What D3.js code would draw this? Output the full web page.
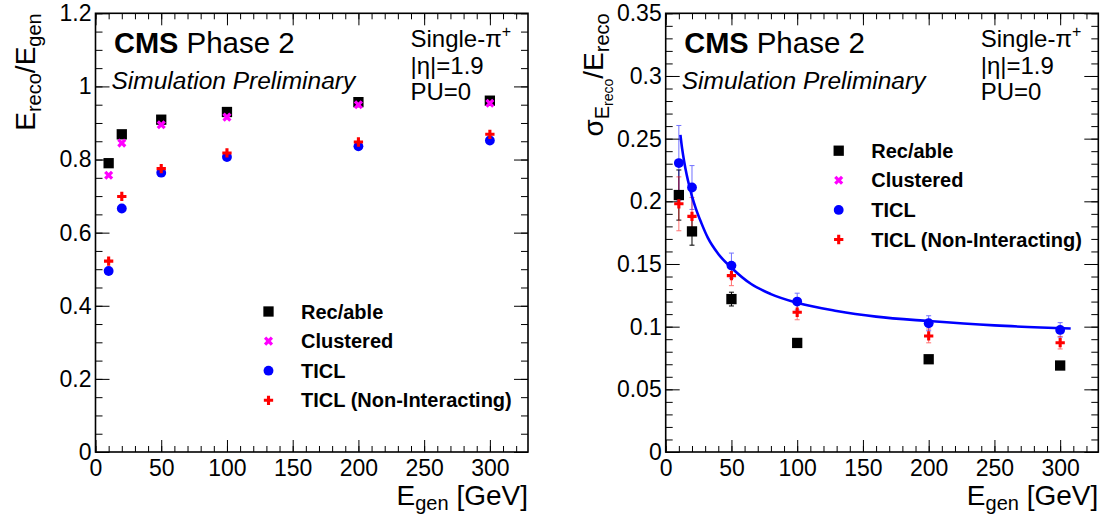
<!DOCTYPE html>
<html>
<head>
<meta charset="utf-8">
<script src="https://cdn.jsdelivr.net/npm/d3@7"></script>
<style>
body { margin: 0; background: #fff; }
svg { display: block; font-family: "Liberation Sans", Arial, Helvetica, sans-serif; }
text { white-space: pre; }
</style>
</head>
<body>
<svg id="chart" width="1102" height="516"></svg>
<script>
// generated energies of the single pion samples [GeV]
const energies = [10, 20, 50, 100, 200, 300];

// response E_reco / E_gen (left pad)
const respRecable = [0.790, 0.869, 0.909, 0.930, 0.957, 0.961];
const respClustered = [0.757, 0.845, 0.895, 0.916, 0.950, 0.954];
const respTICL = [0.495, 0.666, 0.764, 0.807, 0.836, 0.852];
const respTICLNonInt = [0.522, 0.699, 0.775, 0.818, 0.848, 0.869];

// resolution sigma / E_reco (right pad) and errors
const resRecable = [0.205, 0.176, 0.122, 0.087, 0.074, 0.069];
const resRecableErr = [0.020, 0.011, 0.0055, 0.003, 0.002, 0.002];
const resTICL = [0.2305, 0.211, 0.1487, 0.120, 0.1027, 0.0974];
const resTICLErr = [0.030, 0.0175, 0.010, 0.0067, 0.006, 0.0058];
const resTICLNonInt = [0.198, 0.188, 0.1407, 0.1115, 0.0926, 0.0872];
const resTICLNonIntErr = [0.0215, 0.015, 0.008, 0.006, 0.0055, 0.005];

// fitted TICL resolution curve
const fitE = [11.2, 12.5, 14, 16, 18, 20, 23, 27, 32, 40, 50, 65, 80, 100, 130, 160, 200, 250, 308];
const fitRes = [0.253, 0.242, 0.232, 0.221, 0.212, 0.204, 0.194, 0.183, 0.171, 0.158, 0.147, 0.134, 0.126, 0.119, 0.1125, 0.108, 0.1045, 0.101, 0.0985];

const seriesNames = ["Rec/able", "Clustered", "TICL", "TICL (Non-Interacting)"];
const energyTicks = [0, 50, 100, 150, 200, 250, 300];
const respTicks = [0, 0.2, 0.4, 0.6, 0.8, 1, 1.2];
const resTicks = [0, 0.05, 0.1, 0.15, 0.2, 0.25, 0.3, 0.35];

const markerStyle = {
    "Rec/able": { color: "#000000", type: d3.symbolSquare, size: 106, rot: 0 },
    "Clustered": { color: "#ff00ff", type: d3.symbolCross, size: 52, rot: 45 },
    "TICL": { color: "#0000ff", type: d3.symbolCircle, size: 76, rot: 0 },
    "TICL (Non-Interacting)": { color: "#ff0000", type: d3.symbolCross, size: 48, rot: 0 }
};

const svg = d3.select("#chart");
svg.append("rect").attr("width", 1102).attr("height", 516).attr("fill", "#fff");

const fmt = v => String(+v.toFixed(2));

function drawFrame(g, x, y, yTicks, yMinorStep) {
    const [x0, x1] = x.range();
    const [yb, yt] = y.range();
    const xMinor = d3.range(0, x.domain()[1], 10);
    const yMinor = d3.range(0, y.domain()[1] + 1e-9, yMinorStep);
    const clean = s => s.call(a => a.select(".domain").remove())
        .attr("font-family", null).attr("font-size", null);

    // minor ticks, all four sides
    g.append("g").attr("transform", `translate(0,${yb})`)
        .call(d3.axisBottom(x).tickValues(xMinor).tickSize(-6).tickFormat("")).call(clean);
    g.append("g").attr("transform", `translate(0,${yt})`)
        .call(d3.axisTop(x).tickValues(xMinor).tickSize(-6).tickFormat("")).call(clean);
    g.append("g").attr("transform", `translate(${x0},0)`)
        .call(d3.axisLeft(y).tickValues(yMinor).tickSize(-7).tickFormat("")).call(clean);
    g.append("g").attr("transform", `translate(${x1},0)`)
        .call(d3.axisRight(y).tickValues(yMinor).tickSize(-7).tickFormat("")).call(clean);

    // major ticks with labels
    g.append("g").attr("transform", `translate(0,${yb})`)
        .call(d3.axisBottom(x).tickValues(energyTicks).tickSize(-12).tickPadding(8).tickFormat(d3.format("d")))
        .call(clean).attr("font-size", 23);
    g.append("g").attr("transform", `translate(0,${yt})`)
        .call(d3.axisTop(x).tickValues(energyTicks).tickSize(-12).tickFormat("")).call(clean);
    g.append("g").attr("transform", `translate(${x0},0)`)
        .call(d3.axisLeft(y).tickValues(yTicks).tickSize(-14).tickPadding(4).tickFormat(fmt))
        .call(clean).attr("font-size", 23);
    g.append("g").attr("transform", `translate(${x1},0)`)
        .call(d3.axisRight(y).tickValues(yTicks).tickSize(-14).tickFormat("")).call(clean);

    g.selectAll(".tick line").attr("stroke", "#000").attr("stroke-width", 1);
    g.selectAll(".tick text").attr("fill", "#000");

    g.append("rect")
        .attr("x", x0).attr("y", yt)
        .attr("width", x1 - x0).attr("height", yb - yt)
        .attr("fill", "none").attr("stroke", "#000").attr("stroke-width", 1.6);

    // x title
    const xt = g.append("text").attr("x", x1).attr("y", 505).attr("text-anchor", "end").attr("fill", "#000");
    xt.append("tspan").attr("font-size", 28).text("E");
    xt.append("tspan").attr("font-size", 20).attr("dy", 5).text("gen");
    xt.append("tspan").attr("font-size", 28).attr("dy", -5).text(" [GeV]");
}

function drawLabels(g, x) {
    const x0 = x.range()[0];
    const t = g.append("text").attr("x", x0 + 18.5).attr("y", 53).attr("fill", "#000");
    t.append("tspan").attr("font-weight", "bold").attr("font-size", 29).text("CMS");
    t.append("tspan").attr("font-size", 29.5).attr("dx", 8).text("Phase 2");
    g.append("text").attr("x", x0 + 16).attr("y", 89)
        .attr("font-style", "italic").attr("font-size", 24.5).text("Simulation Preliminary");

    const s = g.append("text").attr("x", x0 + 315).attr("y", 46.7).attr("font-size", 24);
    s.append("tspan").text("Single-π");
    s.append("tspan").attr("font-size", 16).attr("dy", -10).text("+");
    g.append("text").attr("x", x0 + 315).attr("y", 74).attr("font-size", 24).text("|η|=1.9");
    g.append("text").attr("x", x0 + 315).attr("y", 100).attr("font-size", 24).text("PU=0");
}

function drawLegend(g, x, yStart) {
    const x0 = x.range()[0];
    seriesNames.forEach((name, i) => {
        const st = markerStyle[name];
        const cy = yStart + i * 29.6;
        g.append("path")
            .attr("d", d3.symbol().type(st.type).size(st.size)())
            .attr("transform", `translate(${x0 + 173},${cy}) rotate(${st.rot})`)
            .attr("fill", st.color);
        g.append("text").attr("x", x0 + 205.5).attr("y", cy + 7)
            .attr("font-size", 20).attr("font-weight", "bold").text(name);
    });
}

function drawMarkers(g, x, y, name, values) {
    const st = markerStyle[name];
    g.append("g").selectAll("path")
        .data(energies.map((e, i) => ({ e, v: values[i] })))
        .join("path")
        .attr("d", d3.symbol().type(st.type).size(st.size)())
        .attr("transform", d => `translate(${x(d.e)},${y(d.v)}) rotate(${st.rot})`)
        .attr("fill", st.color);
}

function drawErrors(g, x, y, values, errs, color, opacity) {
    const pts = energies.map((e, i) => ({ e, v: values[i], err: errs[i] }));
    const eg = g.append("g").attr("stroke", color).attr("stroke-width", 1).attr("opacity", opacity);
    eg.selectAll("line.bar").data(pts).join("line").attr("class", "bar")
        .attr("x1", d => x(d.e)).attr("x2", d => x(d.e))
        .attr("y1", d => y(d.v - d.err)).attr("y2", d => y(d.v + d.err));
    eg.selectAll("line.capt").data(pts).join("line").attr("class", "capt")
        .attr("x1", d => x(d.e) - 2.5).attr("x2", d => x(d.e) + 2.5)
        .attr("y1", d => y(d.v + d.err)).attr("y2", d => y(d.v + d.err));
    eg.selectAll("line.capb").data(pts).join("line").attr("class", "capb")
        .attr("x1", d => x(d.e) - 2.5).attr("x2", d => x(d.e) + 2.5)
        .attr("y1", d => y(d.v - d.err)).attr("y2", d => y(d.v - d.err));
}

// ---------- left pad: response ----------
const xL = d3.scaleLinear().domain([0, 329]).range([95.5, 528]);
const yL = d3.scaleLinear().domain([0, 1.2]).range([452, 13.3]);
const gL = svg.append("g");
drawFrame(gL, xL, yL, respTicks, 0.05);

const ytL = gL.append("text").attr("transform", "translate(35,13.3) rotate(-90)")
    .attr("text-anchor", "end").attr("fill", "#000");
ytL.append("tspan").attr("font-size", 28).text("E");
ytL.append("tspan").attr("font-size", 20).attr("dy", 6).text("reco");
ytL.append("tspan").attr("font-size", 28).attr("dy", -6).text("/E");
ytL.append("tspan").attr("font-size", 20).attr("dy", 6).text("gen");

drawLabels(gL, xL);
drawMarkers(gL, xL, yL, "Rec/able", respRecable);
drawMarkers(gL, xL, yL, "Clustered", respClustered);
drawMarkers(gL, xL, yL, "TICL", respTICL);
drawMarkers(gL, xL, yL, "TICL (Non-Interacting)", respTICLNonInt);
drawLegend(gL, xL, 311.5);

// ---------- right pad: resolution ----------
const xR = d3.scaleLinear().domain([0, 329]).range([665.7, 1098.3]);
const yR = d3.scaleLinear().domain([0, 0.35]).range([452, 13.3]);
const gR = svg.append("g");
drawFrame(gR, xR, yR, resTicks, 0.01);

const ytR = gR.append("text").attr("transform", "translate(603,13.3) rotate(-90)")
    .attr("text-anchor", "end").attr("fill", "#000");
ytR.append("tspan").attr("font-size", 28).text("σ");
ytR.append("tspan").attr("font-size", 20).attr("dy", 6).text("E");
ytR.append("tspan").attr("font-size", 14).attr("dy", 4).text("reco");
ytR.append("tspan").attr("font-size", 28).attr("dy", -10).text("/E");
ytR.append("tspan").attr("font-size", 20).attr("dy", 6).text("reco");

drawLabels(gR, xR);

drawErrors(gR, xR, yR, resRecable, resRecableErr, "#000", 1);
drawErrors(gR, xR, yR, resTICL, resTICLErr, "#0000ff", 0.55);
drawErrors(gR, xR, yR, resTICLNonInt, resTICLNonIntErr, "#ff0000", 0.55);

gR.append("path")
    .datum(fitE.map((e, i) => [e, fitRes[i]]))
    .attr("d", d3.line().x(d => xR(d[0])).y(d => yR(d[1])).curve(d3.curveMonotoneX))
    .attr("fill", "none").attr("stroke", "#0000ff").attr("stroke-width", 2.6);

drawMarkers(gR, xR, yR, "Rec/able", resRecable);
drawMarkers(gR, xR, yR, "TICL", resTICL);
drawMarkers(gR, xR, yR, "TICL (Non-Interacting)", resTICLNonInt);
drawLegend(gR, xR, 150.7);
</script>
</body>
</html>
